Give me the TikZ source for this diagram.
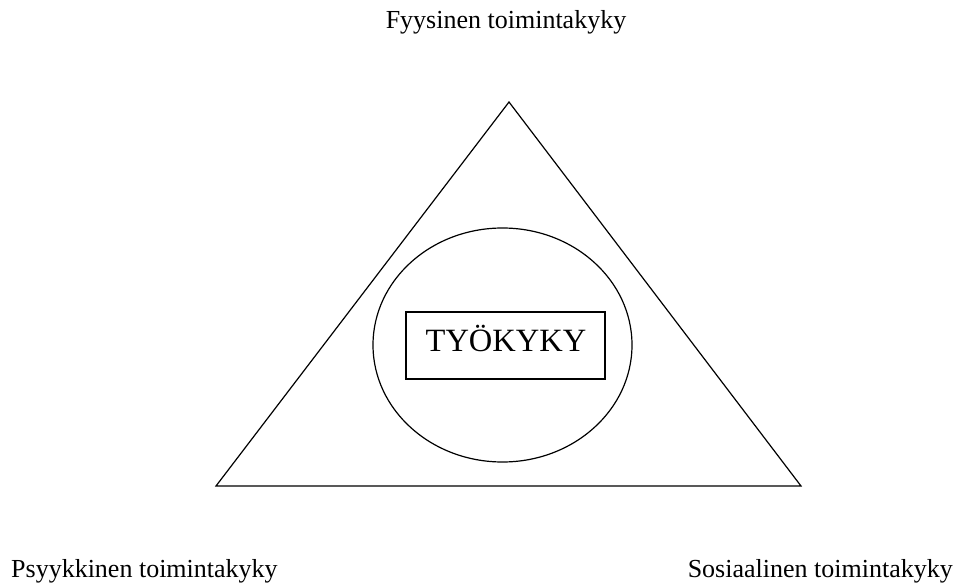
\documentclass[tikz,border=0pt]{standalone}
\usepackage{fontspec}
\setmainfont{Liberation Serif}
\usetikzlibrary{shapes.geometric}
\begin{document}
\begin{tikzpicture}[x=1pt,y=-1pt,
  lbl/.style={font=\fontsize{26}{30}\selectfont, inner sep=0pt},
  shp/.style={draw=black, line width=1.2pt}]
\useasboundingbox (0,0) rectangle (962,586);
\coordinate (apex) at (509,102);
\coordinate (bl) at (216,486);
\coordinate (br) at (801,486);
\draw[shp, line join=miter] (apex) -- (bl) -- (br) -- cycle;
\node[shp, ellipse, minimum width=259pt, minimum height=234pt, inner sep=0pt] (ell) at (502.5,345) {};
\node[shp, rectangle, minimum width=199pt, minimum height=67pt, inner sep=0pt] (box) at (505.5,345.5) {};
\node[font=\fontsize{32.5}{36}\selectfont, inner sep=0pt, anchor=base] (tk) at (506,351) {TYÖKYKY};
\node[lbl, anchor=base] (fy) at (506,29) {Fyysinen toimintakyky};
\node[lbl, anchor=base west] (ps) at (11,577) {Psyykkinen toimintakyky};
\node[lbl, anchor=base east] (so) at (953,577) {Sosiaalinen toimintakyky};
\end{tikzpicture}
\end{document}
